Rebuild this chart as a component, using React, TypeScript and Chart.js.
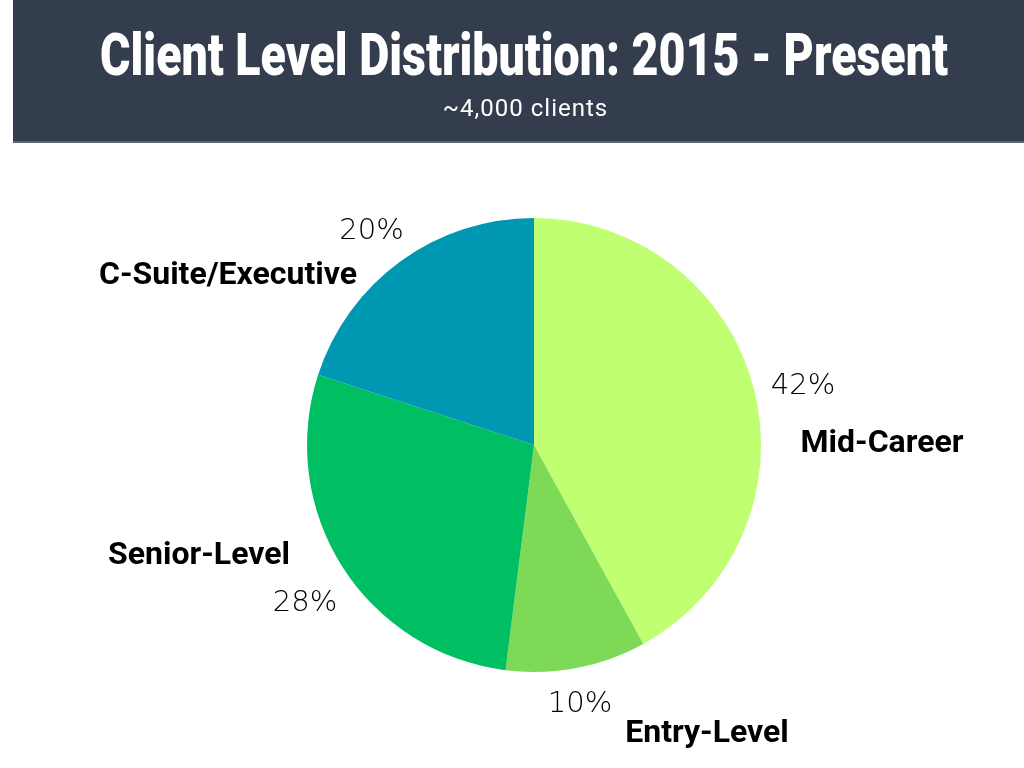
import { useEffect, useRef } from "react";
import { Chart, ArcElement, PieController } from "chart.js";

Chart.register(ArcElement, PieController);

const categories = ["Mid-Career", "Entry-Level", "Senior-Level", "C-Suite/Executive"];
const shares = [42, 10, 28, 20];
const colors = ["#c1ff72", "#7ed957", "#00bf63", "#0097b2"];
const title = "Client Level Distribution: 2015 - Present";
const subtitle = "~4,000 clients";

// label anchors (text centre x, baseline y) relative to the pie centre
const pctOffsets = [[269, -51], [46, 267], [-229, 166], [-162.5, -206]];
const nameOffsets = [[348, 7], [173, 297], [-335, 119], [-306, -161]];

const decorPlugin = {
  id: "decor",
  afterDraw(chart: any) {
    const ctx = chart.ctx as CanvasRenderingContext2D;
    // header band
    ctx.save();
    ctx.fillStyle = "#333d4e";
    ctx.fillRect(13, 0, 1011, 141);
    ctx.fillStyle = "#5d6775";
    ctx.fillRect(13, 141, 1011, 2);
    ctx.fillStyle = "#ffffff";
    ctx.textAlign = "center";
    ctx.textBaseline = "alphabetic";
    ctx.font = "900 59px Roboto";
    const w = ctx.measureText(title).width;
    ctx.save();
    ctx.translate(524, 75);
    ctx.scale(848 / w, 1);
    ctx.fillText(title, 0, 0);
    ctx.restore();
    ctx.font = "24px Roboto";
    (ctx as any).letterSpacing = "1px";
    ctx.fillText(subtitle, 525.5, 116);
    (ctx as any).letterSpacing = "0px";
    ctx.restore();

    // slice labels
    const arc = chart.getDatasetMeta(0).data[0];
    if (!arc) return;
    const cx = arc.x;
    const cy = arc.y;
    ctx.save();
    ctx.textAlign = "center";
    ctx.textBaseline = "alphabetic";
    ctx.fillStyle = "#000000";
    shares.forEach((v, i) => {
      ctx.font = "200 29px 'DejaVu Sans'";
      ctx.fillText(v + "%", cx + pctOffsets[i][0], cy + pctOffsets[i][1]);
      ctx.font = "bold 32px Roboto";
      ctx.fillText(categories[i], cx + nameOffsets[i][0], cy + nameOffsets[i][1]);
    });
    ctx.restore();
  },
};

export default function App() {
  const ref = useRef<HTMLCanvasElement>(null);
  useEffect(() => {
    if (!ref.current) return;
    const chart = new Chart(ref.current, {
      type: "pie",
      data: {
        labels: categories,
        datasets: [
          {
            data: shares,
            backgroundColor: colors,
            borderWidth: 0,
          },
        ],
      },
      options: {
        responsive: false,
        animation: false,
        devicePixelRatio: 1,
        layout: { padding: { top: 218, bottom: 96, left: 307, right: 263 } },
        plugins: { legend: { display: false }, tooltip: { enabled: false } },
      },
      plugins: [decorPlugin],
    });
    return () => chart.destroy();
  }, []);
  return (
    <div style={{ position: "fixed", left: 0, top: 0, width: 1024, height: 768, background: "#fff" }}>
      <canvas ref={ref} width={1024} height={768} style={{ display: "block", width: 1024, height: 768 }} />
    </div>
  );
}
